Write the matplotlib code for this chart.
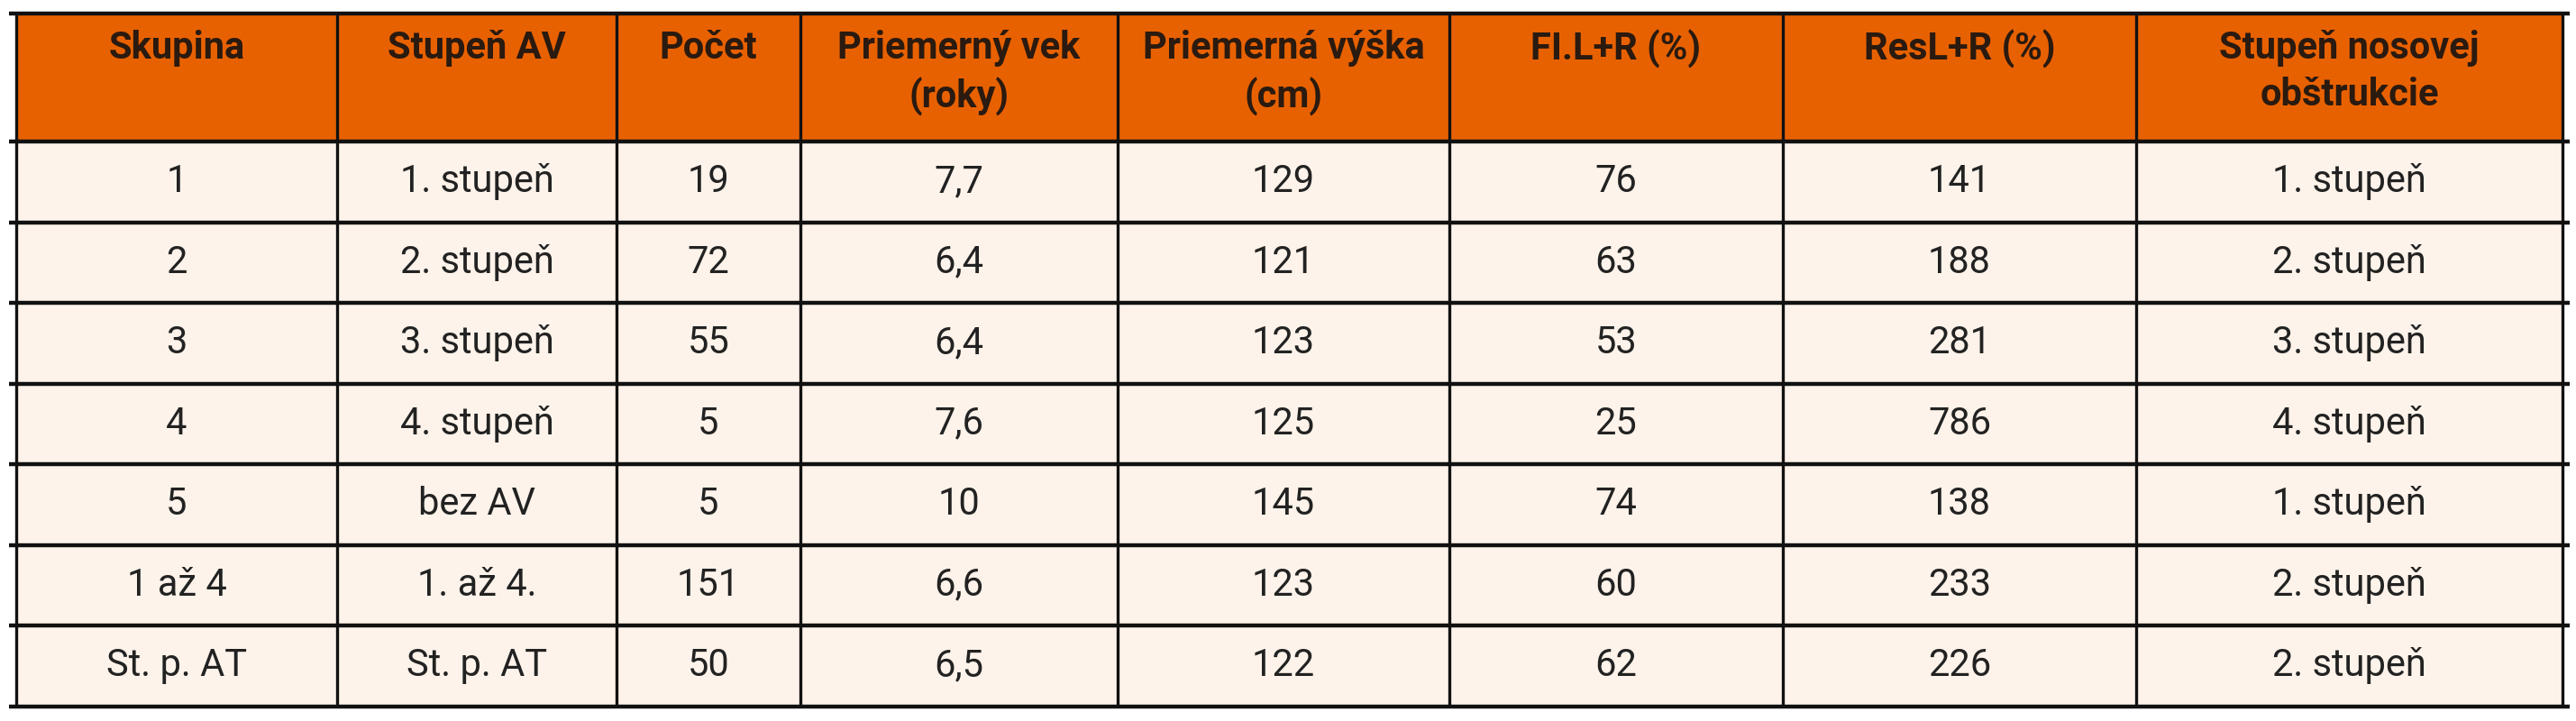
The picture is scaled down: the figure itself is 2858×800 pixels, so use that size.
import matplotlib
matplotlib.use("Agg")
import matplotlib.pyplot as plt
from matplotlib.patches import Rectangle

headers = ["Skupina", "Stupeň AV", "Počet", "Priemerný vek\n(roky)", "Priemerná výška\n(cm)",
           "FI.L+R (%)", "ResL+R (%)", "Stupeň nosovej\nobštrukcie"]
skupina = ["1", "2", "3", "4", "5", "1 až 4", "St. p. AT"]
stupen_av = ["1. stupeň", "2. stupeň", "3. stupeň", "4. stupeň", "bez AV", "1. až 4.", "St. p. AT"]
pocet = [19, 72, 55, 5, 5, 151, 50]
vek = ["7,7", "6,4", "6,4", "7,6", "10", "6,6", "6,5"]
vyska = [129, 121, 123, 125, 145, 123, 122]
fi = [76, 63, 53, 25, 74, 60, 62]
res = [141, 188, 281, 786, 138, 233, 226]
obstrukcia = ["1. stupeň", "2. stupeň", "3. stupeň", "4. stupeň", "1. stupeň", "2. stupeň", "2. stupeň"]

columns = [skupina, stupen_av, pocet, vek, vyska, fi, res, obstrukcia]

xb = [18, 374, 684, 888, 1240, 1608, 1978, 2370, 2843]
top, hdr_bot, row_h = 15, 157, 89.5

fam = ["Liberation Sans Narrow", "Roboto", "DejaVu Sans"]
fig = plt.figure(figsize=(28.58, 8), dpi=100)
ax = fig.add_axes([0, 0, 1, 1])
ax.set_xlim(0, 2858)
ax.set_ylim(800, 0)
ax.axis("off")

nrows = len(skupina)
bottom = hdr_bot + nrows * row_h
ax.add_patch(Rectangle((xb[0], top), xb[-1] - xb[0], hdr_bot - top, color="#E86100", zorder=0))
ax.add_patch(Rectangle((xb[0], hdr_bot), xb[-1] - xb[0], bottom - hdr_bot, color="#FDF3EA", zorder=0))

for j, h in enumerate(headers):
    cx = (xb[j] + xb[j + 1]) / 2
    ax.text(cx, top + 18, h, ha="center", va="top", fontsize=30, fontweight="bold",
            color="#2a1a10", family=fam, linespacing=1.35)
    for i, v in enumerate(columns[j]):
        cy = hdr_bot + (i + 0.5) * row_h
        ax.text(cx, cy, str(v), ha="center", va="center", fontsize=30, color="#222222", family=fam)

for x in xb:
    ax.plot([x, x], [top, bottom], color="#111111", lw=2.4, solid_capstyle="butt")
for k in range(nrows + 2):
    y = top if k == 0 else hdr_bot + (k - 1) * row_h
    ax.plot([xb[0] - 8, xb[-1] + 8], [y, y], color="#111111", lw=3.2, solid_capstyle="butt")

fig.savefig("out.png", dpi=100)
